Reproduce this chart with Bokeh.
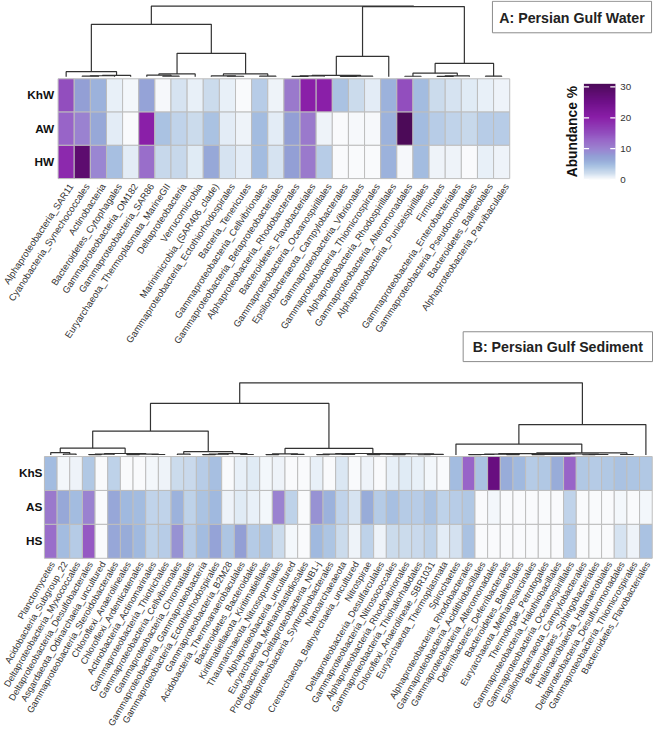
import numpy as np
from bokeh.plotting import figure
from bokeh.models import Range1d, LinearColorMapper, ColumnDataSource
from bokeh.core.properties import value
from bokeh.embed import file_html
from bokeh.resources import INLINE

# ---------------- data ----------------
water_samples = ["KhW", "AW", "HW"]
water_taxa = [
    "Alphaproteobacteria_SAR11", "Cyanobacteria_Synechococcales", "Actinobacteria",
    "Bacteroidetes_Cytophagales", "Gammaproteobacteria_OM182", "Gammaproteobacteria_SAR86",
    "Euryarchaeota_Thermoplasmata_MarineGII", "Deltaproteobacteria", "Verrucomicrobia",
    "Marinimicrobia_(SAR406_clade)", "Gammaproteobacteria_Ectothiorhodospirales",
    "Bacteria_Tenericutes", "Gammaproteobacteria_Cellvibrionales",
    "Gammaproteobacteria_Betaproteobacteriales", "Alphaproteobacteria_Rhodobacterales",
    "Bacteroidetes_Flavobacteriales", "Gammaproteobacteria_Oceanospirillales",
    "Epsilonbacteraeota_Campylobacterales", "Gammaproteobacteria_Vibrionales",
    "Gammaproteobacteria_Thiomicrospirales", "Alphaproteobacteria_Rhodospirillales",
    "Gammaproteobacteria_Alteromonadales", "Alphaproteobacteria_Puniceispirillales",
    "Firmicutes", "Gammaproteobacteria_Enterobacteriales",
    "Gammaproteobacteria_Pseudomonadales", "Bacteroidetes_Balneolales",
    "Alphaproteobacteria_Parvibaculales",
]
water_KhW = [15, 7.5, 5.5, 0.8, 0.3, 7.0, 0.2, 1.6, 0.8, 2.2, 0.8, 0.1, 3.5, 0.5,
             11, 20, 20, 4.3, 2.2, 1.0, 5.5, 15, 4.8, 2.2, 1.6, 1.2, 0.8, 0.6]
water_AW = [13, 10, 6.3, 1.0, 0.1, 20, 4.3, 2.8, 2.2, 4.3, 1.0, 0.5, 4.8, 1.0,
            7.5, 11, 0.5, 0.0, 0.2, 0.2, 5.5, 31, 4.8, 3.5, 2.8, 2.5, 3.5, 3.5]
water_HW = [19, 28, 9.5, 4.5, 1.0, 12, 2.5, 2.5, 1.2, 6.3, 1.6, 1.0, 4.8, 1.6,
            7.5, 11, 3.5, 0.0, 0.1, 0.0, 5.5, 0.2, 4.8, 0.5, 0.5, 0.1, 0.8, 0.5]

sed_samples = ["KhS", "AS", "HS"]
sed_taxa = [
    "Planctomycetes", "Acidobacteria_Subgroup_22", "Deltaproteobacteria_Myxococcales",
    "Deltaproteobacteria_Desulfobacterales", "Asgardaeota_Odinarchaeia_uncultured",
    "Gammaproteobacteria_Steroidobacterales", "Chloroflexi_Anaerolineales",
    "Chloroflexi_Ardenticatenales", "Actinobacteria_Actinomarinales",
    "Gammaproteobacteria_Thiotrichales", "Gammaproteobacteria_Cellvibrionales",
    "Gammaproteobacteria_Chromatiales", "Gammaproteobacteria_Gammaproteobacteria",
    "Gammaproteobacteria_Ectothiorhodospirales", "Gammaproteobacteria_B2M28",
    "Acidobacteria_Thermoanaerobaculales", "Bacteroidetes_Bacteroidales",
    "Kiritimatiellaeota_Kiritimatiellales", "Thaumarchaeota_Nitrosopumilales",
    "Alphaproteobacteria_uncultured", "Euryarchaeota_Methanofastidiosales",
    "Proteobacteria_Deltaproteobacteria_NB1-j", "Deltaproteobacteria_Syntrophobacterales",
    "Nanoarchaeaeota", "Crenarchaeota_Bathyarchaeia_uncultured", "Nitrospirae",
    "Deltaproteobacteria_Desulfarculales", "Gammaproteobacteria_Nitrosococcales",
    "Alphaproteobacteria_Rhodovibrionales", "Gammaproteobacteria_Thiohalorhabdales",
    "Chloroflexi_Anaerolineae_SBR1031", "Euryarchaeota_Thermoplasmata", "Spirochaetes",
    "Alphaproteobacteria_Rhodobacterales", "Gammaproteobacteria_Acidithiobacillales",
    "Gammaproteobacteria_Alteromonadales", "Deferribacteres_Deferribacterales",
    "Bacteroidetes_Balneolales", "Euryarchaeota_Methanosarcinales",
    "Thermotogae_Petrotogales", "Gammaproteobacteria_Halothiobacillales",
    "Gammaproteobacteria_Oceanospirillales", "Epsilonbacteraeota_Campylobacterales",
    "Bacteroidetes_Sphingobacteriales", "Halanaerobiaeota_Halanaerobiales",
    "Deltaproteobacteria_Desulfuromonadales", "Gammaproteobacteria_Thiomicrospirales",
    "Bacteroidetes_Flavobacteriales",
]
sed_KhS = [4.8, 0.3, 0.5, 3.8, 0.0, 3.0, 0.1, 0.1, 0.3, 0.5, 2.2, 2.4, 3.5, 4.5,
           0.1, 0.8, 1.2, 0.3, 0.5, 0.0, 0.1, 0.8, 0.0, 1.4, 0.0, 0.5, 0.0, 0.8,
           1.2, 0.8, 0.3, 0.0, 4.8, 13, 4.3, 26, 6.0, 5.0, 3.6, 3.8, 6.0, 13,
           3.8, 3.6, 3.8, 4.3, 4.0, 3.8]
sed_AS = [11, 6.3, 4.8, 10, 0.1, 6.5, 5.0, 4.8, 2.8, 2.8, 5.5, 3.0, 4.2, 5.0,
          0.5, 1.2, 0.8, 0.3, 10, 3.0, 0.0, 8.5, 5.5, 2.8, 1.6, 6.0, 3.6, 4.5,
          3.6, 3.5, 4.3, 3.0, 3.5, 3.8, 0.0, 0.3, 0.0, 0.0, 0.0, 0.0, 0.0, 2.8,
          0.0, 0.0, 0.0, 0.3, 0.0, 0.3]
sed_HS = [12, 4.8, 3.6, 14, 0.1, 6.5, 6.0, 5.0, 3.0, 3.5, 8.5, 3.5, 4.8, 7.0,
          4.0, 7.5, 3.6, 4.0, 2.2, 0.3, 0.0, 5.0, 4.0, 2.2, 0.5, 3.0, 0.5, 2.2,
          2.2, 2.4, 3.0, 1.0, 1.8, 4.3, 0.0, 0.1, 0.0, 0.0, 0.0, 0.0, 0.1, 3.5,
          0.0, 0.0, 0.0, 1.6, 0.5, 4.3]

# dendrograms: (node, left, right, height); ints are column indices
water_tree = [
    ("t1", 1, 2, 0.8), ("t2", "t1", 3, 1.1), ("t3", "t2", 4, 1.4), ("L", 0, "t3", 5.3),
    ("t4", 6, 7, 0.8), ("t5", 5, "t4", 1.8), ("M1", "t5", 8, 3.0),
    ("t6", 10, 11, 0.6), ("t7", 9, "t6", 1.0), ("t8", 12, 13, 0.8), ("M2", "t7", "t8", 3.0),
    ("M", "M1", "M2", 24.0), ("A", "L", "M", 53.7),
    ("t9", 14, 15, 0.5), ("t10", "t9", 16, 0.9), ("t11", 17, 18, 0.4), ("t12", "t11", 19, 0.8),
    ("B1a", "t10", "t12", 1.5), ("B1", "B1a", 20, 21.0),
    ("t13", 21, 22, 0.6), ("t14", 23, 24, 0.5), ("t15", "t14", 25, 1.0),
    ("B2a", "t13", "t15", 3.7), ("t16", 26, 27, 0.7), ("B2", "B2a", "t16", 13.7),
    ("B", "B1", "B2", 71.8), ("root", "A", "B", 72.3),
]
sed_tree = [
    ("a1", 1, 2, 1.0), ("a2", 0, "a1", 2.5), ("a3", 3, 4, 0.5), ("a4", "a3", 5, 0.9),
    ("a5", 6, 7, 0.4), ("a6", 8, 9, 0.6), ("a7", "a5", "a6", 1.0), ("a8", "a4", "a7", 1.6),
    ("a9", "a2", "a8", 7.0),
    ("b1", 10, 11, 1.0), ("b2", 12, 13, 0.5), ("b3", "b2", 14, 0.9), ("b4", 15, 16, 0.6),
    ("b5", "b3", "b4", 1.5), ("b6", "b1", "b5", 3.5), ("c1", "a9", "b6", 24.5),
    ("e1", 17, 18, 0.5), ("e2", 19, 20, 0.7), ("e3", "e1", "e2", 1.2),
    ("f1", 21, 22, 0.4), ("f2", 23, 24, 0.6), ("f3", "f1", "f2", 1.0),
    ("f4", 25, 26, 0.5), ("f5", 27, 28, 0.4), ("f6", "f4", "f5", 0.9),
    ("f7", 29, 30, 0.3), ("f8", "f7", 31, 0.7), ("f9", "f6", "f8", 1.2),
    ("f10", "f3", "f9", 1.6), ("g1", "e3", "f10", 6.8), ("h1", "c1", "g1", 52.8),
    ("k1", 33, 34, 0.4), ("k2", "k1", 35, 0.6), ("k3", 36, 37, 0.5), ("k4", "k2", "k3", 0.9),
    ("k5", 38, 39, 0.4), ("k6", 40, 41, 0.6), ("k7", "k5", "k6", 0.8),
    ("k8", 42, 43, 0.3), ("k9", "k8", 44, 0.6), ("k10", "k7", "k9", 1.1),
    ("k11", "k4", "k10", 1.4), ("k12", 45, 46, 0.6), ("k13", "k11", "k12", 2.2),
    ("k14", 32, "k13", 11.2), ("k15", "k14", 47, 31.2), ("root", "h1", "k15", 73.8),
]

legend_ticks = [0, 10, 20, 30]
legend_max = 31
legend_title = "Abundance %"
title_water = "A: Persian Gulf Water"
title_sed = "B: Persian Gulf Sediment"

# ---------------- styling ----------------
FONT = value("Liberation Sans")
W, H = 669, 748  # layout space, scaled by Bokeh into the 653x732 canvas

anchors = [(0, "#f9fafc"), (1, "#e2ecf6"), (2, "#cedded"), (3, "#bdd1e9"), (4, "#adc5e3"),
           (5, "#a0b9df"), (6, "#98abd9"), (7.5, "#939ed5"), (9.5, "#9a86d2"),
           (11, "#9a78cc"), (13, "#9864c8"), (15, "#924dbe"), (20, "#8a1fa8"),
           (25, "#6e0f88"), (31, "#4c0a58")]


def hex2rgb(h):
    return np.array([int(h[i:i + 2], 16) for i in (1, 3, 5)], dtype=float)


av = np.array([a[0] for a in anchors])
ac = np.array([hex2rgb(a[1]) for a in anchors])
grid = np.linspace(0, legend_max, 256)
palette = []
for g in grid:
    rgb = [np.interp(g, av, ac[:, k]) for k in range(3)]
    palette.append("#%02x%02x%02x" % tuple(int(round(c)) for c in rgb))
mapper = LinearColorMapper(palette=palette, low=0, high=legend_max)


def rng_x(d0, p0, d1, p1):
    k = (d1 - d0) / (p1 - p0)
    return Range1d(start=d0 + (0 - p0) * k, end=d0 + (W - p0) * k)


def rng_y(d0, p0, d1, p1):
    k = (d1 - d0) / (p1 - p0)
    return Range1d(start=d0 + (H - p0) * k, end=d0 + (0 - p0) * k)


p = figure(width=653, height=732, x_range=Range1d(0, W), y_range=Range1d(H, 0),
           x_axis_type=None, y_axis_type=None, toolbar_location=None,
           output_backend="svg", min_border=0, outline_line_color=None)
p.background_fill_color = "white"
p.border_fill_color = "white"

panels = [
    dict(name="w", samples=water_samples, taxa=water_taxa,
         rows=[water_KhW, water_AW, water_HW], tree=water_tree,
         x=(59, 521.7), y=(182, 80), dend=(78, 5.7), rowlab_x=55,
         lab_dx=5.0, lab_dy=6.0, lab_angle=0.986, lab_size="9.4px"),
    dict(name="s", samples=sed_samples, taxa=sed_taxa,
         rows=[sed_KhS, sed_AS, sed_HS], tree=sed_tree,
         x=(45, 667.7), y=(570, 466), dend=(464.5, 390.7), rowlab_x=43,
         lab_dx=2.0, lab_dy=4.2, lab_angle=1.047, lab_size="9.2px"),
]

p.extra_x_ranges = {}
p.extra_y_ranges = {}
for pn in panels:
    n = len(pn["taxa"])
    nm = pn["name"]
    root_h = pn["tree"][-1][3]
    p.extra_x_ranges[nm + "x"] = rng_x(0, pn["x"][0], n, pn["x"][1])
    p.extra_y_ranges[nm + "y"] = rng_y(0, pn["y"][0], 3, pn["y"][1])
    p.extra_y_ranges[nm + "d"] = rng_y(0, pn["dend"][0], root_h, pn["dend"][1])
p.extra_y_ranges["leg"] = rng_y(0, 183, 30, 88.3)

for pn in panels:
    nm = pn["name"]
    n = len(pn["taxa"])
    kx = n / (pn["x"][1] - pn["x"][0])          # columns per layout px
    ky = 3 / (pn["y"][0] - pn["y"][1])          # rows per layout px
    xs, ys, vals = [], [], []
    for r, row in enumerate(pn["rows"]):
        for c, v in enumerate(row):
            xs.append(c + 0.5)
            ys.append(2.5 - r)
            vals.append(v)
    src = ColumnDataSource(dict(x=xs, y=ys, val=vals))
    p.rect(x="x", y="y", width=1, height=1, source=src,
           fill_color={"field": "val", "transform": mapper},
           line_color="#bdbdbd", line_width=1,
           x_range_name=nm + "x", y_range_name=nm + "y")

    # dendrogram
    pos = {i: i + 0.5 for i in range(n)}
    hgt = {i: 0.0 for i in range(n)}
    dx, dy = [], []
    for node, a, b, h in pn["tree"]:
        xa, xb = pos[a], pos[b]
        dx.append([xa, xa, xb, xb])
        dy.append([hgt[a], h, h, hgt[b]])
        pos[node] = (xa + xb) / 2
        hgt[node] = h
    p.multi_line(xs=dx, ys=dy, line_color="#333333", line_width=1.2,
                 x_range_name=nm + "x", y_range_name=nm + "d")

    # column labels
    p.text(x=[i + 0.5 + pn["lab_dx"] * kx for i in range(n)],
           y=[-pn["lab_dy"] * ky] * n, text=pn["taxa"],
           angle=pn["lab_angle"], text_align="right", text_baseline="middle",
           text_font=FONT, text_font_size=pn["lab_size"], text_color="#333333",
           x_range_name=nm + "x", y_range_name=nm + "y")

    # row labels
    p.text(x=[-(pn["x"][0] - pn["rowlab_x"]) * kx] * 3, y=[2.5, 1.5, 0.5],
           text=pn["samples"], text_align="right", text_baseline="middle",
           text_font=FONT, text_font_size="11.8px", text_font_style="bold",
           text_color="#111111", x_range_name=nm + "x", y_range_name=nm + "y")

# title boxes
p.quad(left=[504, 474], right=[667, 668], top=[0.8, 338.5], bottom=[33, 369],
       fill_color=None, line_color="#8c8c8c", line_width=1)
p.text(x=[585.5, 571], y=[17.5, 354], text=[title_water, title_sed],
       text_align="center", text_baseline="middle", text_font=FONT,
       text_font_size="14.2px", text_font_style="bold", text_color="#222222")

# colour bar
bar = np.linspace(0, legend_max, 300).reshape(300, 1)
p.image(image=[bar], x=597.7, y=0, dw=630 - 597.7, dh=legend_max,
        color_mapper=mapper, y_range_name="leg")
p.segment(x0=[597.7] * 4, x1=[603] * 4, y0=legend_ticks, y1=legend_ticks,
          line_color="white", line_width=1.3, y_range_name="leg")
p.segment(x0=[624.7] * 4, x1=[630] * 4, y0=legend_ticks, y1=legend_ticks,
          line_color="white", line_width=1.3, y_range_name="leg")
p.text(x=[635] * 4, y=legend_ticks, text=[str(t) for t in legend_ticks],
       text_align="left", text_baseline="middle", text_font=FONT,
       text_font_size="9.8px", text_color="#333333", y_range_name="leg")
p.text(x=[586], y=[15.5], text=[legend_title], angle=np.pi / 2,
       text_align="center", text_baseline="middle", text_font=FONT,
       text_font_size="13.8px", text_font_style="bold", text_color="#111111",
       y_range_name="leg")

open("out.html", "w").write(file_html(p, INLINE))
